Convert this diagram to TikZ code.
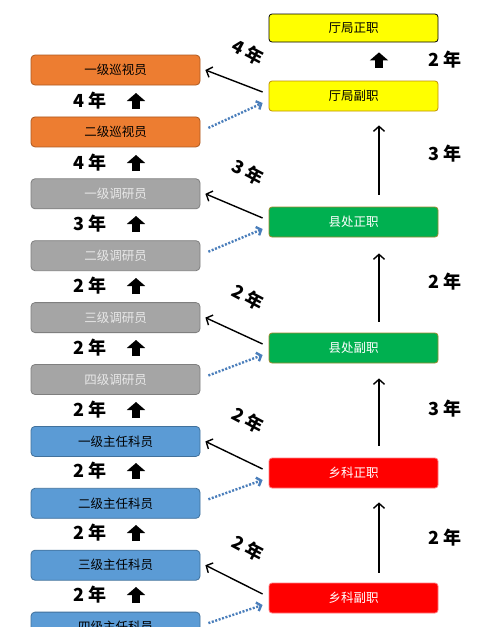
\documentclass[tikz,border=0pt]{standalone}
\usepackage{fontspec}
\setmainfont{Liberation Sans}
\newfontfamily\cjk{Noto Sans CJK SC}
\usetikzlibrary{calc, arrows.meta}

\definecolor{orangeF}{HTML}{ED7D31}
\definecolor{orangeD}{HTML}{AE5A21}
\definecolor{grisF}{HTML}{A5A5A5}
\definecolor{grisD}{HTML}{7F7F7F}
\definecolor{grisT}{HTML}{E8E8E8}
\definecolor{bleuF}{HTML}{5B9BD5}
\definecolor{bleuD}{HTML}{41719C}
\definecolor{jauneF}{HTML}{FFFF00}
\definecolor{jauneD}{HTML}{BF9000}
\definecolor{vertF}{HTML}{00B050}
\definecolor{vertD}{HTML}{9C8A2E}
\definecolor{rougeF}{HTML}{FF0000}
\definecolor{rougeD}{HTML}{FF7C80}
\definecolor{pointille}{HTML}{4A7EBB}

\tikzstyle{rang} = [rectangle, rounded corners=4pt, draw, line width=0.8pt, minimum height=30pt, minimum width=169pt, inner sep=0pt, font=\cjk\fontsize{12.5pt}{12.5pt}\selectfont]
\tikzstyle{poste} = [rang, rounded corners=3pt]
\tikzstyle{annee} = [inner sep=0pt, font=\cjk\bfseries\fontsize{18pt}{18pt}\selectfont]
\tikzstyle{bloc} = [line width=8pt, -{Triangle[width=18pt, length=8pt]}]
\tikzstyle{monte} = [line width=1.4pt, -{Straight Barb[length=5pt, width=11pt]}]
\tikzstyle{promu} = [pointille, line width=2.4pt, dash pattern=on 2pt off 1.6pt, -{Straight Barb[length=4pt, width=9pt]}]

\begin{document}
\begin{tikzpicture}[x=1pt, y=-1pt]

        \clip (0,0) rectangle (500,627);
        \fill [white] (0,0) rectangle (500,627);

        % colonne de gauche
        \node (L1) [rang, fill=orangeF, draw=orangeD] at (115.5,70) {一级巡视员};
        \node (L2) [rang, fill=orangeF, draw=orangeD] at (115.5,131.9) {二级巡视员};
        \node (L3) [rang, fill=grisF, draw=grisD, text=grisT] at (115.5,193.8) {一级调研员};
        \node (L4) [rang, fill=grisF, draw=grisD, text=grisT] at (115.5,255.7) {二级调研员};
        \node (L5) [rang, fill=grisF, draw=grisD, text=grisT] at (115.5,317.6) {三级调研员};
        \node (L6) [rang, fill=grisF, draw=grisD, text=grisT] at (115.5,379.5) {四级调研员};
        \node (L7) [rang, fill=bleuF, draw=bleuD] at (115.5,441.4) {一级主任科员};
        \node (L8) [rang, fill=bleuF, draw=bleuD] at (115.5,503.3) {二级主任科员};
        \node (L9) [rang, fill=bleuF, draw=bleuD] at (115.5,565.2) {三级主任科员};
        \node (L10) [rang, fill=bleuF, draw=bleuD] at (115.5,627.1) {四级主任科员};

        \foreach \n/\y in {4/101, 4/163, 3/224, 2/286, 2/348, 2/410, 2/471, 2/533, 2/595} {
            \node (a\y) [annee] at (90,\y) {\n\ 年};
            \draw [bloc] (136,{\y+8}) -- (136,{\y-8});
        }

        % colonne de droite
        \node (R1) [poste, fill=jauneF, draw=black, minimum height=28pt] at (353.5,28) {厅局正职};
        \node (R2) [poste, fill=jauneF, draw=jauneD] at (353.5,96) {厅局副职};
        \node (R3) [poste, fill=vertF, draw=vertD, text=white] at (353.5,222) {县处正职};
        \node (R4) [poste, fill=vertF, draw=vertD, text=white] at (353.5,348) {县处副职};
        \node (R5) [poste, fill=rougeF, draw=rougeD, text=white] at (353.5,473) {乡科正职};
        \node (R6) [poste, fill=rougeF, draw=rougeD, text=white] at (353.5,598) {乡科副职};

        \coordinate (col) at (379,0);
        \draw [bloc, shorten <=13pt, shorten >=10pt] (R2.north -| col) -- (R1.south -| col);
        \draw [monte, shorten <=12pt, shorten >=14pt] (R3.north -| col) -- (R2.south -| col);
        \draw [monte, shorten <=11pt, shorten >=16pt] (R4.north -| col) -- (R3.south -| col);
        \draw [monte, shorten <=12pt, shorten >=15pt] (R5.north -| col) -- (R4.south -| col);
        \draw [monte, shorten <=10pt, shorten >=14pt] (R6.north -| col) -- (R5.south -| col);

        \node (b1) [annee] at (445,60) {2 年};
        \node (b2) [annee] at (445,154) {3 年};
        \node (b3) [annee] at (445,282) {2 年};
        \node (b4) [annee] at (445,409) {3 年};
        \node (b5) [annee] at (445,538) {2 年};

        % passages entre les deux colonnes
        \foreach \r/\h/\b/\n/\ly in {R2/L1/L2/4/52, R3/L3/L4/3/172, R4/L5/L6/2/297, R5/L7/L8/2/420, R6/L9/L10/2/548} {
            \draw [monte] ($(\r.west)+(-6,-4)$) -- ($(\h.east)+(5,0)$);
            \draw [promu] ($(\b.east)+(8,-4)$) -- ($(\r.west)+(-6,7)$);
            \node (d\r) [annee, rotate=-28] at (248,\ly) {\n\ 年};
        }

    \end{tikzpicture}
\end{document}
